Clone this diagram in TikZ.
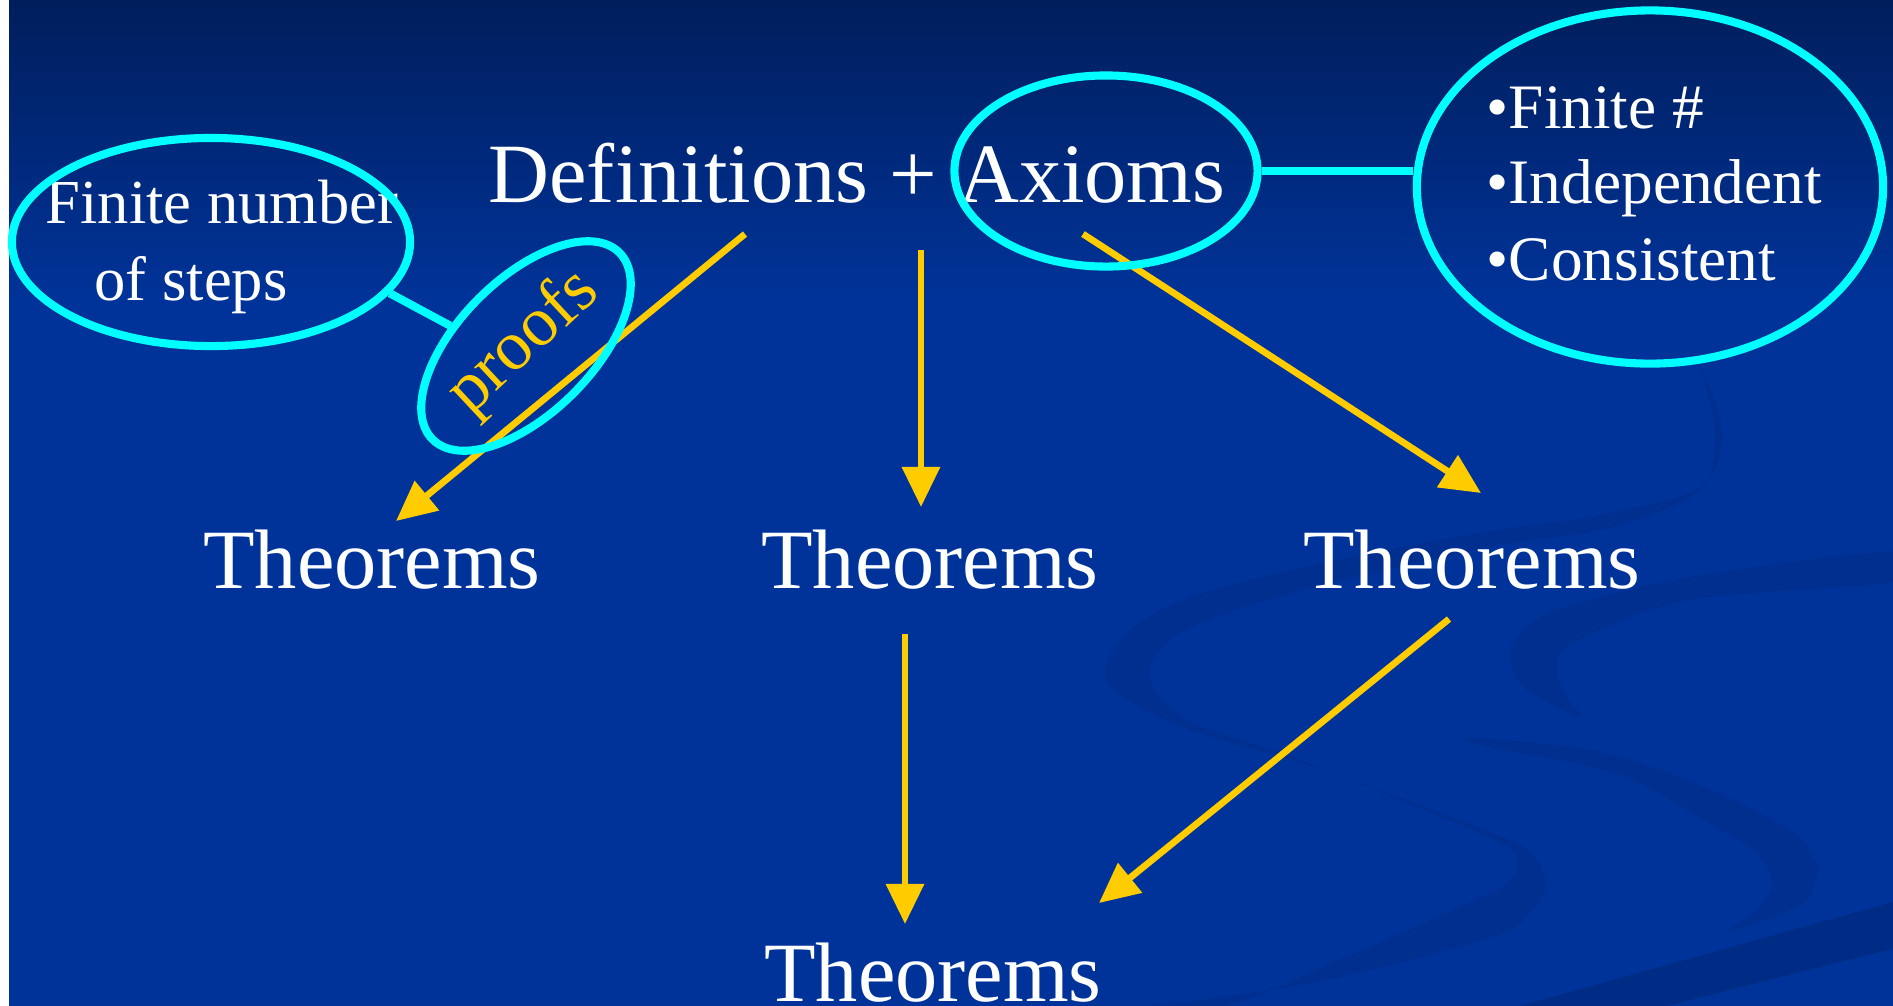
\documentclass[tikz,border=0pt]{standalone}
\usepackage{fontspec}
\setmainfont{Liberation Serif}
\usetikzlibrary{arrows.meta,shapes.geometric}

\definecolor{slidetop}{RGB}{0,30,92}
\definecolor{slideblue}{RGB}{0,51,153}
\definecolor{swirlblue}{RGB}{0,47,144}
\definecolor{swirldark}{RGB}{0,44,134}
\definecolor{ringcyan}{RGB}{0,255,255}
\definecolor{arrowgold}{RGB}{255,204,0}

\begin{document}
\begin{tikzpicture}[x=0.01cm, y=-0.01cm,
	ring/.style={ellipse, draw=ringcyan, line width=2.3pt, inner sep=0pt},
	bigtext/.style={text=white, inner sep=0pt, font=\fontsize{24}{28}\selectfont},
	smalltext/.style={text=white, inner sep=0pt, font=\fontsize{17.8}{22}\selectfont},
	listtext/.style={text=white, inner sep=0pt, font=\fontsize{18}{22}\selectfont},
	arr/.style={-{Triangle[length=11.4pt, width=10.5pt]}, arrowgold, line width=1.9pt},
	link/.style={ringcyan, line width=2.3pt}]
	\useasboundingbox (0,0) rectangle (1893,1005);
	% slide background
	\fill[white] (-10,-10) rectangle (1903,1015);
	\fill[slideblue] (9,-10) rectangle (1903,1015);
	\shade[top color=slidetop, bottom color=slideblue] (9,0) rectangle (1903,300);
	\fill[slidetop] (9,-10) rectangle (1903,0);
	\begin{scope}
		\clip (9,0) rectangle (1893,1005);
		\fill[swirlblue] plot[smooth cycle, tension=0.55] coordinates {(1700,365) (1722,433) (1700,487) (1600,515) (1490,531) (1323,563) (1190,597) (1130,630) (1105,670) (1123,697) (1190,730) (1323,770) (1490,832) (1530,852) (1546,883) (1530,913) (1490,938) (1300,985) (1090,1012) (1000,1014) (1200,1012) (1350,955) (1490,893) (1512,878) (1517,860) (1490,838) (1300,760) (1200,726) (1162,700) (1150,670) (1172,638) (1230,612) (1323,585) (1490,547) (1610,528) (1700,490) (1715,433)};
		\fill[swirlblue] plot[smooth cycle, tension=0.55] coordinates {(1900,551) (1690,577) (1557,610) (1518,636) (1510,660) (1525,688) (1580,718) (1567,697) (1557,670) (1573,643) (1690,600) (1900,581)};
		\fill[swirlblue] plot[smooth cycle, tension=0.55] coordinates {(1480,738) (1600,752) (1700,785) (1790,830) (1815,860) (1818,873) (1800,905) (1727,932) (1757,910) (1772,883) (1757,853) (1720,830) (1620,775) (1480,745)};
		\fill[swirldark] (1505,1010) -- (1900,900) -- (1900,947) -- (1650,1010) -- cycle;
	\end{scope}

	% texts
	\node[bigtext, anchor=base] (defs) at (857,202) {Definitions + Axioms};
	\node[smalltext, anchor=base] (finitetop) at (222,223) {Finite number};
	\node[smalltext, anchor=base] (finitebot) at (191,300) {of steps};
	\node[listtext, anchor=base west] (bfinite) at (1486,128) {\textbullet Finite \#};
	\node[listtext, anchor=base west] (bindep) at (1486,203) {\textbullet Independent};
	\node[listtext, anchor=base west] (bconsist) at (1486,280) {\textbullet Consistent};
	\node[bigtext, anchor=base] (thmL) at (372,588) {Theorems};
	\node[bigtext, anchor=base] (thmM) at (930,588) {Theorems};
	\node[bigtext, anchor=base] (thmR) at (1472,588) {Theorems};
	\node[bigtext, anchor=base] (thmB) at (933,1001) {Theorems};
	\node[text=arrowgold, inner sep=0pt, font=\fontsize{20}{24}\selectfont, rotate=43] (proofslabel) at (524,343) {proofs};

	% arrows
	\coordinate (defsL) at (745,234);  \coordinate (tipL) at (396,521);
	\coordinate (defsM) at (921,250);  \coordinate (tipM) at (921,507);
	\coordinate (defsR) at (1083,234); \coordinate (tipR) at (1481,493);
	\coordinate (thmMout) at (905,634);  \coordinate (tipBM) at (905,924);
	\coordinate (thmRout) at (1449,619); \coordinate (tipBR) at (1099,903);
	\draw[arr] (defsL) -- (tipL);
	\draw[arr] (defsM) -- (tipM);
	\draw[arr] (defsR) -- (tipR);
	\draw[arr] (thmMout) -- (tipBM);
	\draw[arr] (thmRout) -- (tipBR);

	% cyan rings
	\node[ring, minimum width=3.98cm, minimum height=2.08cm] (finite) at (211,242) {};
	\node[ring, minimum width=3.03cm, minimum height=1.91cm] (axioms) at (1106,171) {};
	\node[ring, minimum width=4.66cm, minimum height=3.53cm] (bullets) at (1650,187) {};
	\node[ring, minimum width=2.64cm, minimum height=1.34cm, rotate=45] (proofs) at (526,346) {};
	\draw[link] (finite.-16) -- (proofs.120);
	\draw[link] (axioms.east) -- (axioms.east -| bullets.west);
\end{tikzpicture}
\end{document}
